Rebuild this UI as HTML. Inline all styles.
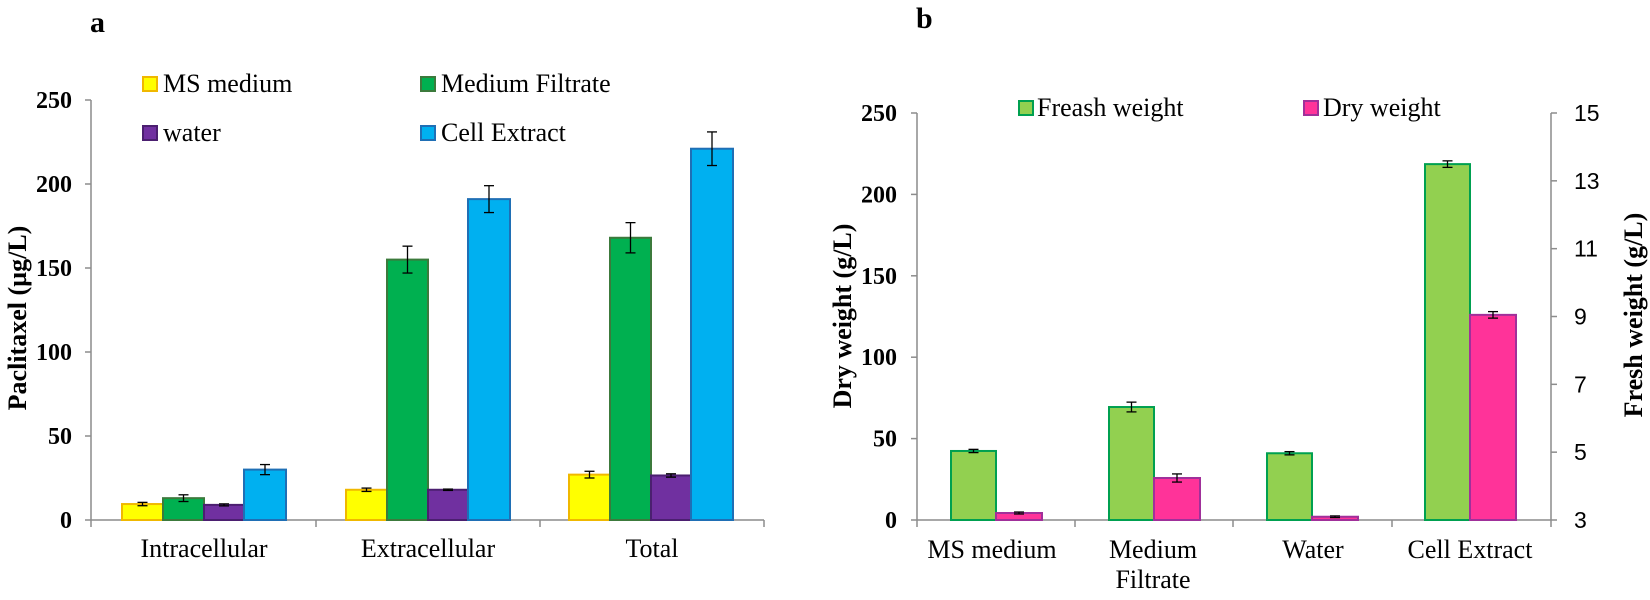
<!DOCTYPE html>
<html><head><meta charset="utf-8"><style>
body{margin:0;background:#fff}
svg text{font-family:"Liberation Serif",serif;fill:#000}
</style></head><body>
<svg id="s" width="1650" height="595" viewBox="0 0 1650 595" xmlns="http://www.w3.org/2000/svg"></svg>
<script>
const s=document.getElementById('s');let h='';
function R(x,y,w,hh,f,st){h+=`<rect x="${x}" y="${y}" width="${w}" height="${hh}" fill="${f}" stroke="${st}" stroke-width="2"/>`;}
function L(x1,y1,x2,y2,c='#8c8c8c',w=1.5){h+=`<line x1="${x1}" y1="${y1}" x2="${x2}" y2="${y2}" stroke="${c}" stroke-width="${w}"/>`;}
function T(x,y,t,o=''){h+=`<text x="${x}" y="${y}" ${o}>${t}</text>`;}
function E(cx,y1,y2){L(cx,y1,cx,y2,'#000',1.3);L(cx-5,y1,cx+5,y1,'#000',1.3);L(cx-5,y2,cx+5,y2,'#000',1.3);}
// chart a
const y0=520,k=420/250;
L(91,100,91,520);L(91,520,764,520);
for(let v=0;v<=250;v+=50){const y=y0-v*k;L(85,y,91,y);T(72,y+8,v,'font-size="24" font-weight="bold" text-anchor="end"');}
[91,316,540,764].forEach(x=>L(x,520,x,527));
const ca=[['#FFFF00','#F0B800'],['#00B050','#3C7A3C'],['#7030A0','#4B1F70'],['#00B0F0','#1F6FB5']];
const off=[30,71,112,152],wd=[41,41,40,42];
const ga=[[92,[9.5,13,9,30],[1,2,0.6,3]],[316,[18,155,18,191],[1,8,0.4,8]],[539,[27,168,26.5,221],[2,9,1,10]]];
ga.forEach(g=>{g[1].forEach((v,i)=>{const x=g[0]+off[i];R(x,y0-v*k,wd[i],v*k,ca[i][0],ca[i][1]);E(x+wd[i]/2,y0-(v+g[2][i])*k,y0-(v-g[2][i])*k);});});
T(204,557,'Intracellular','font-size="26" text-anchor="middle"');
T(428,557,'Extracellular','font-size="26" text-anchor="middle"');
T(652,557,'Total','font-size="26" text-anchor="middle"');
T(90,32,'a','font-size="30" font-weight="bold"');
T(0,0,'Paclitaxel (µg/L)','font-size="26" font-weight="bold" text-anchor="middle" transform="translate(26,318) rotate(-90)"');
const lg=[[143,77,'MS medium',0],[421,77,'Medium Filtrate',1],[143,126,'water',2],[421,126,'Cell Extract',3]];
lg.forEach(l=>{R(l[0],l[1],14,14,ca[l[3]][0],ca[l[3]][1]);T(l[0]+20,l[1]+15,l[2],'font-size="26"');});
// chart b
const b0=520,kb=407/250;
L(917,113,917,520);L(917,520,1551,520);L(1551,113,1551,520);
for(let v=0;v<=250;v+=50){const y=b0-v*kb;L(911,y,917,y);T(897,y+8,v,'font-size="24" font-weight="bold" text-anchor="end"');}
for(let v=3;v<=15;v+=2){const y=b0-(v-3)/12*407;L(1551,y,1557,y);T(1574,y+8,v,'font-size="23" style="font-family:\'Liberation Sans\',sans-serif"');}
[917,1075,1233,1392,1551].forEach(x=>L(x,520,x,527));
const gx=[951,1109,1267,1425],gv=[42.4,69.4,41,218.6],ge=[1,3,1,2],pv=[4.3,25.8,2,126],pe=[0.6,2.5,0.5,2];
gx.forEach((x,i)=>{R(x,b0-gv[i]*kb,45,gv[i]*kb,'#92D050','#00A050');E(x+22.5,b0-(gv[i]+ge[i])*kb,b0-(gv[i]-ge[i])*kb);
R(x+45,b0-pv[i]*kb,46,pv[i]*kb,'#FF3399','#A0309A');E(x+68,b0-(pv[i]+pe[i])*kb,b0-(pv[i]-pe[i])*kb);});
T(992,558,'MS medium','font-size="26" text-anchor="middle"');
T(1153,558,'Medium','font-size="26" text-anchor="middle"');
T(1153,588,'Filtrate','font-size="26" text-anchor="middle"');
T(1313,558,'Water','font-size="26" text-anchor="middle"');
T(1470,558,'Cell Extract','font-size="26" text-anchor="middle"');
T(916,28,'b','font-size="30" font-weight="bold"');
T(0,0,'Dry weight (g/L)','font-size="26" font-weight="bold" text-anchor="middle" transform="translate(851,316) rotate(-90)"');
T(0,0,'Fresh weight (g/L)','font-size="26" font-weight="bold" text-anchor="middle" transform="translate(1642,315) rotate(-90)"');
R(1019,101,14,14,'#92D050','#00A050');T(1037,116,'Freash weight','font-size="26"');
R(1304,101,14,14,'#FF3399','#A0309A');T(1323,116,'Dry weight','font-size="26"');
s.innerHTML=h;
</script>
</body></html>
